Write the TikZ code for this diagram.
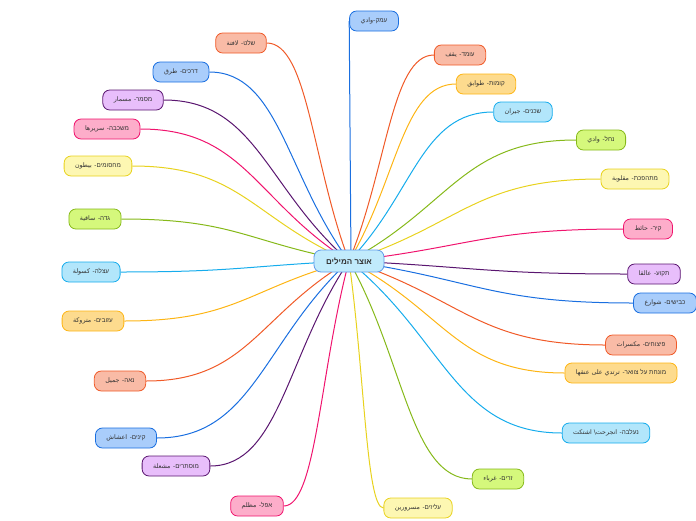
\documentclass[tikz,border=0pt]{standalone}
\usepackage{fontspec}
\usetikzlibrary{calc, backgrounds}
\TeXXeTstate=1
\newfontfamily\hebfont[Script=Hebrew]{Liberation Sans}
\newfontfamily\arabfont[Script=Arabic]{DejaVu Sans}
\newcommand{\pair}[2]{\beginR{\hebfont #1-} {\arabfont #2}\endR}
\definecolor{lblue}{HTML}{1A6FE0}\definecolor{fblue}{HTML}{A9CDFB}
\definecolor{lsalmon}{HTML}{F05A28}\definecolor{fsalmon}{HTML}{F9BBA6}
\definecolor{lgold}{HTML}{FDB515}\definecolor{fgold}{HTML}{FDDB8E}
\definecolor{lcyan}{HTML}{16ACEC}\definecolor{fcyan}{HTML}{B2E6FB}
\definecolor{llime}{HTML}{86B91A}\definecolor{flime}{HTML}{D5F87C}
\definecolor{lyellow}{HTML}{E8D21E}\definecolor{fyellow}{HTML}{FDF7B2}
\definecolor{lpink}{HTML}{F0146E}\definecolor{fpink}{HTML}{FDADCA}
\definecolor{lpurple}{HTML}{5A1670}\definecolor{fpurple}{HTML}{E8BEFB}
\tikzset{
    topic/.style={rectangle, rounded corners=7pt, minimum height=20pt, inner xsep=11pt, line width=0.8pt, font=\fontsize{6.3}{7}\selectfont, text=black!80},
    tblue/.style={topic, fill=fblue, draw=lblue},
    tsalmon/.style={topic, fill=fsalmon, draw=lsalmon},
    tgold/.style={topic, fill=fgold, draw=lgold},
    tcyan/.style={topic, fill=fcyan, draw=lcyan},
    tlime/.style={topic, fill=flime, draw=llime},
    tyellow/.style={topic, fill=fyellow, draw=lyellow},
    tpink/.style={topic, fill=fpink, draw=lpink},
    tpurple/.style={topic, fill=fpurple, draw=lpurple},
    branch/.style={line width=1pt}
}
\begin{document}
\begin{tikzpicture}[x=1pt, y=-1pt]
\useasboundingbox (0,0) rectangle (696,520);

% Central topic
\node (root) [topic, fill=fcyan!80, draw=lblue!70, minimum width=70pt, minimum height=22pt, font=\fontsize{8}{9}\selectfont\bfseries] at (349,261) {\hebfont\beginR אוצר המילים\endR};

% Right side
\node (emek) [tblue] at (374,21) {\beginR{\hebfont עמק}-{\arabfont وادي}\endR};
\node (omed) [tsalmon] at (460,55) {\pair{עומד}{يقف}};
\node (komot) [tgold] at (486,84) {\pair{קומות}{طوابق}};
\node (shchenim) [tcyan] at (523,112) {\pair{שכנים}{جيران}};
\node (nahal) [tlime] at (601,140) {\pair{נחל}{وادي}};
\node (mithapechet) [tyellow] at (635,179) {\pair{מתהפכת}{مقلوبة}};
\node (kir) [tpink] at (648,229) {\pair{קיר}{حائط}};
\node (takua) [tpurple] at (654,274) {\pair{תקוע}{عالقا}};
\node (kvishim) [tblue] at (665,303) {\pair{כבישים}{شوارع}};
\node (pitzuhim) [tsalmon] at (641,345) {\pair{פיצוחים}{مكسرات}};
\node (munachat) [tgold] at (621,373) {\pair{מונחת על צוואר}{ترتدي على عنقها}};
\node (neelva) [tcyan] at (606,433) {\pair{נעלבה}{انجرحت\textbackslash{} اشتكت}};
\node (zarim) [tlime] at (498,479) {\pair{זרים}{غرباء}};
\node (alizim) [tyellow] at (418,508) {\pair{עליזים}{مسرورين}};

% Left side
\node (afel) [tpink] at (257,506) {\pair{אפל}{مظلم}};
\node (mustarim) [tpurple] at (176,466) {\pair{מוסתרים}{مشعلة}};
\node (kinim) [tblue] at (126,438) {\pair{קינים}{اعشاش}};
\node (nae) [tsalmon] at (120,381) {\pair{נאה}{جميل}};
\node (azuvim) [tgold] at (93,321) {\pair{עזובים}{متروكة}};
\node (atzela) [tcyan] at (91,272) {\pair{עצלה}{كسولة}};
\node (gada) [tlime] at (95,219) {\pair{גדה}{ساقية}};
\node (mahsomim) [tyellow] at (98,166) {\pair{מחסומים}{بيطون}};
\node (mishkava) [tpink] at (107,129) {\pair{משכבה}{سريرها}};
\node (masmer) [tpurple] at (133,100) {\pair{מסמר}{مسمار}};
\node (drachim) [tblue] at (181,72) {\pair{דרכים}{طرق}};
\node (shelet) [tsalmon] at (241,43) {\pair{שלט}{لافتة}};

% Branches
\begin{scope}[on background layer]
\draw [branch, lblue] (351,261) -- (emek.west);
\foreach \n/\c in {omed/lsalmon, komot/lgold, shchenim/lcyan, nahal/llime, mithapechet/lyellow, kir/lpink, takua/lpurple, kvishim/lblue, pitzuhim/lsalmon, munachat/lgold, neelva/lcyan, zarim/llime, alizim/lyellow}
    \draw [branch, \c] (root.center) .. controls ($(root.center)!.45!(\n.west)$) and ($(\n.west)!.5!(root.center |- \n.west)$) .. (\n.west);
\foreach \n/\c in {afel/lpink, mustarim/lpurple, kinim/lblue, nae/lsalmon, azuvim/lgold, atzela/lcyan, gada/llime, mahsomim/lyellow, mishkava/lpink, masmer/lpurple, drachim/lblue, shelet/lsalmon}
    \draw [branch, \c] (root.center) .. controls ($(root.center)!.45!(\n.east)$) and ($(\n.east)!.5!(root.center |- \n.east)$) .. (\n.east);
\end{scope}

\end{tikzpicture}
\end{document}
